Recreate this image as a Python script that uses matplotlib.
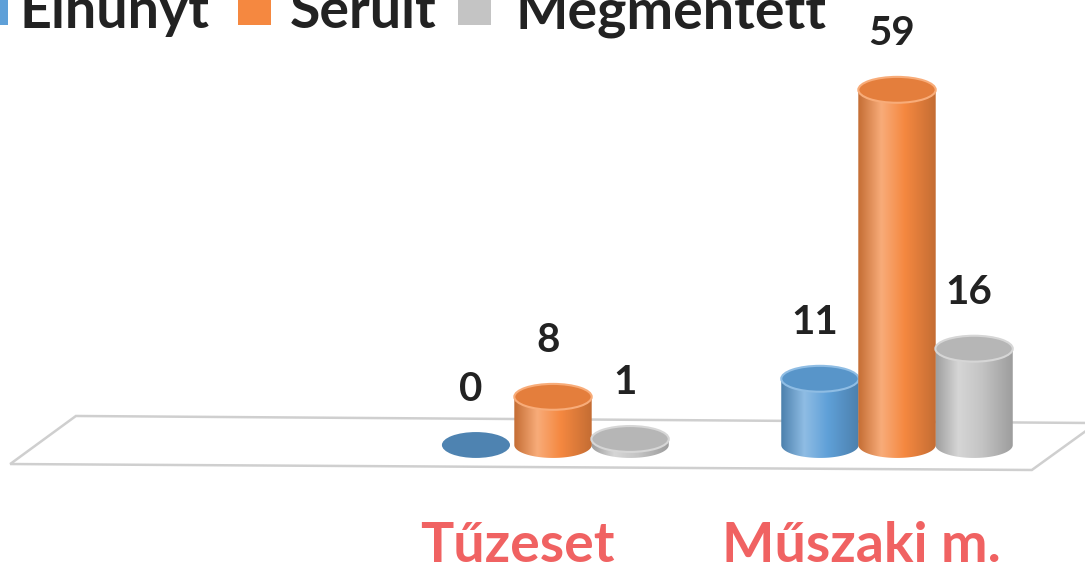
import numpy as np
import matplotlib
matplotlib.use('Agg')
import matplotlib.pyplot as plt
from matplotlib.patches import Ellipse, Rectangle, PathPatch, Polygon
from matplotlib.path import Path
from matplotlib.colors import LinearSegmentedColormap, to_rgb

# ---- data ----
categories = ['Tűzeset', 'Műszaki m.']
series = ['Elhunyt', 'Sérült', 'Megmentett']
elhunyt = [0, 11]
serult = [8, 59]
megmentett = [1, 16]
values = [elhunyt, serult, megmentett]

colors = ['#5FA0D8', '#F58840', '#C4C4C4']
label_color = '#F06262'
text_color = '#222222'
FONT = 'Lato'

W, H = 1085, 571
fig = plt.figure(figsize=(W / 100, H / 100), dpi=100)
ax = fig.add_axes([0, 0, 1, 1])
XLIM = (-1.6076, 1.5465)
YLIM = (-20.93, 73.92)
ax.axis('off')

offset = 0.224   # distance between series within a group
bw = 0.225       # cylinder width
eh = 4.3         # ellipse height (value units)

# ---- floor plane ----
floor = Polygon([(-1.387, 4.82), (1.581, 3.65), (1.392, -4.15), (-1.578, -3.16)],
                closed=True, facecolor='white', edgecolor='#CFCFCF', lw=1.8, zorder=1)
ax.add_patch(floor)


def cylinder(xc, v, color, z):
    base = np.array(to_rgb(color))
    dark = base * 0.8
    light = np.minimum(1, base + (1 - base) * 0.3)
    cmap = LinearSegmentedColormap.from_list(
        'c', [(0, dark), (0.3, light), (0.6, base), (1, dark)])
    if v > 0:
        th = np.linspace(np.pi, 2 * np.pi, 80)
        bx = xc + bw / 2 * np.cos(th)
        by = eh / 2 * np.sin(th)
        verts = [(xc - bw / 2, v)] + list(zip(bx, by)) + [(xc + bw / 2, v), (xc - bw / 2, v)]
        codes = [Path.MOVETO] + [Path.LINETO] * (len(verts) - 2) + [Path.CLOSEPOLY]
        patch = PathPatch(Path(verts, codes), facecolor='none', edgecolor='none', zorder=z)
        ax.add_patch(patch)
        grad = np.linspace(0, 1, 256).reshape(1, -1)
        im = ax.imshow(grad, cmap=cmap, extent=(xc - bw / 2, xc + bw / 2, -eh / 2, v),
                       aspect='auto', zorder=z, interpolation='bilinear')
        im.set_clip_path(patch)
        top = Ellipse((xc, v), bw, eh, facecolor=base * 0.93, edgecolor=light,
                      lw=1.5, zorder=z + 0.1)
        ax.add_patch(top)
    else:
        e = Ellipse((xc, v), bw * 0.88, eh, facecolor=base * 0.82, edgecolor='none', zorder=z)
        ax.add_patch(e)


group_x = np.arange(len(categories))
for si, (vals, col) in enumerate(zip(values, colors)):
    for gi, v in enumerate(vals):
        xc = group_x[gi] + (si - 1) * offset
        cylinder(xc, v, col, 3 + si * 0.5 + (0.6 if si == 1 else 0))
        ax.text(xc - 0.015, v + 9.3, str(v), ha='center', va='center',
                fontsize=29, fontweight='bold', color=text_color, family=FONT, zorder=10)

# category labels
for gi, cat in enumerate(categories):
    ax.text(group_x[gi] - 0.105, -19.4, cat, ha='center', va='baseline',
            fontsize=40, fontweight='bold', color=label_color, family=FONT)

ax.set_xlim(*XLIM)
ax.set_ylim(*YLIM)

# ---- legend (cut at the top edge, as in the reference) ----
def px(x, y):
    return x / W, 1 - y / H

sq = 33
leg_sq_x = [-25, 238, 458]
leg_txt_x = [20, 290, 515]
for name, col, sx, tx in zip(series, colors, leg_sq_x, leg_txt_x):
    x0, y0 = px(sx, 25)
    fig.patches.append(Rectangle((x0, y0), sq / W, sq / H, transform=fig.transFigure,
                                 facecolor=col, edgecolor='none', figure=fig))
    fx, fy = px(tx, 28)
    fig.text(fx, fy, name, ha='left', va='baseline', fontsize=40, fontweight='bold',
             color=text_color, family=FONT)

fig.savefig('out.png', dpi=100)
